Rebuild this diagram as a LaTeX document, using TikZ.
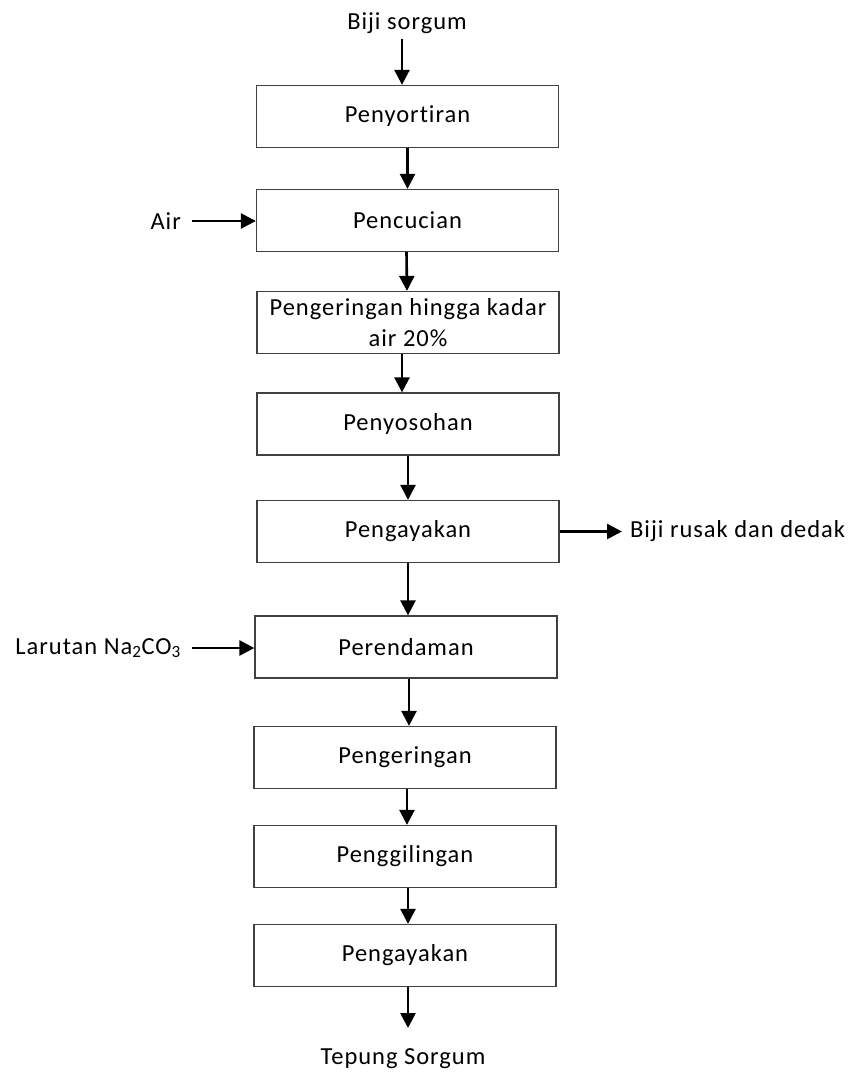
\documentclass[tikz,border=0pt]{standalone}
\usepackage{fontspec}
\setmainfont{Carlito}[LetterSpace=4,Ligatures={NoCommon}]
\usetikzlibrary{arrows.meta}
\begin{document}
\begin{tikzpicture}[x=1pt,y=-1pt,
  procbox/.style={draw=black!75,line width=1.3pt,rectangle,minimum width=302pt,minimum height=62pt,inner sep=0pt,align=center,font=\fontsize{24.5}{31}\selectfont},
  lbl/.style={inner sep=0pt,font=\fontsize{24.5}{31}\selectfont},
  flow/.style={line width=2.6pt,-{Triangle[length=15pt,width=15pt]}}]
\useasboundingbox (0,0) rectangle (851,1072);
\node[lbl] (in) at (407,23) {Biji sorgum};
\node[procbox] (b1) at (407.5,116.5) {Penyortiran};
\node[procbox] (b2) at (407.5,220.5) {Pencucian};
\node[procbox] (b3) at (408,322.5) {Pengeringan hingga kadar\\air 20\%};
\node[procbox] (b4) at (408,424) {Penyosohan};
\node[procbox] (b5) at (408,531.5) {Pengayakan};
\node[procbox] (b6) at (406,647) {Perendaman};
\node[procbox] (b7) at (405,757.5) {Pengeringan};
\node[procbox] (b8) at (405,856.5) {Penggilingan};
\node[procbox] (b9) at (405,955.5) {Pengayakan};
\node[lbl] (out) at (403,1059) {Tepung Sorgum};
\node[lbl,anchor=east] (air) at (181,221) {Air};
\node[lbl,anchor=east] (nac) at (181,648) {Larutan Na\textsubscript{2}CO\textsubscript{3}};
\node[lbl,anchor=west] (dedak) at (630,531) {Biji rusak dan dedak};
\coordinate (start) at (402,39);
\coordinate (end) at (408,1028);
\draw[flow] (start) -- (b1.north -| start);
\draw[flow] (b1.south) -- (b2.north);
\draw[flow] ([xshift=-1pt]b2.south) -- ([xshift=-1pt]b3.north);
\draw[flow] ([xshift=-6pt]b3.south) -- ([xshift=-6pt]b4.north);
\draw[flow] (b4.south) -- (b5.north);
\draw[flow] (b5.south) -- ([xshift=2pt]b6.north);
\draw[flow] ([xshift=3pt]b6.south) -- ([xshift=4pt]b7.north);
\draw[flow] ([xshift=2pt]b7.south) -- ([xshift=2pt]b8.north);
\draw[flow] ([xshift=3pt]b8.south) -- ([xshift=3pt]b9.north);
\draw[flow] ([xshift=3pt]b9.south) -- (end);
\draw[flow] ([xshift=11pt]air.east) -- (b2.west |- air.east);
\draw[flow] ([xshift=11pt]nac.east) -- (b6.west |- nac.east);
\draw[flow] (b5.east) -- ([xshift=-8pt]dedak.west |- b5.east);
\end{tikzpicture}
\end{document}
